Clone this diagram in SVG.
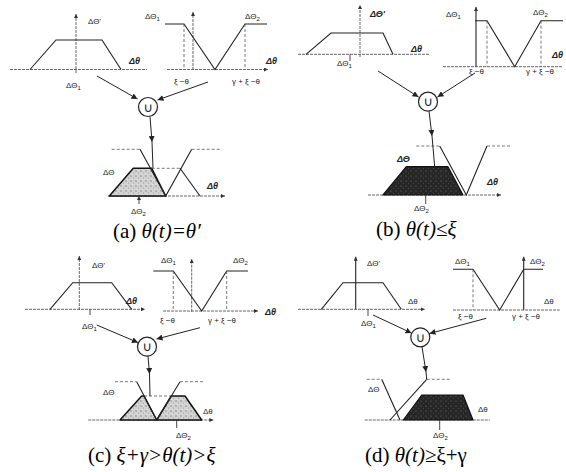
<svg xmlns="http://www.w3.org/2000/svg" width="566" height="472" viewBox="0 0 566 472">
<style>
.ax{stroke:#555;stroke-width:0.9;stroke-dasharray:3 1;fill:none}
.ln{stroke:#222;stroke-width:1.1;fill:none}
.ds{stroke:#555;stroke-width:0.8;stroke-dasharray:3 2;fill:none}
.shl{fill:url(#stipL);stroke:#111;stroke-width:1.5;stroke-linejoin:round}
.shd{fill:url(#stipD);stroke:#111;stroke-width:1.2;stroke-linejoin:round}
.lb{font-family:"Liberation Sans",Arial,sans-serif;font-size:8px;fill:#222}
.lbi{font-family:"Liberation Sans",Arial,sans-serif;font-size:9px;font-style:italic;font-weight:bold;fill:#222}
.sub{font-size:6px}
.cap{font-family:"Liberation Serif","Times New Roman",serif;font-size:21px;fill:#000}
.it{font-style:italic}
.un{fill:#fff;stroke:#222;stroke-width:1.2}
.ut{font-family:"DejaVu Sans",sans-serif;font-size:13px;fill:#222;text-anchor:middle}
.cn{stroke:#222;stroke-width:1;fill:none}
.tk{stroke:#333;stroke-width:0.9;fill:none}
</style>
<defs>
<marker id="ah" viewBox="0 0 6 6" markerWidth="6" markerHeight="6" refX="6" refY="3" orient="auto" markerUnits="userSpaceOnUse"><path d="M0,0 L6,3 L0,6 z" fill="#222"/></marker>
<marker id="as" viewBox="0 0 6 6" markerWidth="4" markerHeight="4" refX="6" refY="3" orient="auto" markerUnits="userSpaceOnUse"><path d="M0,0 L6,3 L0,6 z" fill="#333"/></marker>
<pattern id="stipL" width="5" height="5" patternUnits="userSpaceOnUse"><rect width="5" height="5" fill="#d2d2d2"/><circle cx="1" cy="1" r="0.7" fill="#777"/><circle cx="3.5" cy="3" r="0.6" fill="#999"/><circle cx="2" cy="4.2" r="0.5" fill="#f2f2f2"/></pattern>
<pattern id="stipD" width="5" height="5" patternUnits="userSpaceOnUse"><rect width="5" height="5" fill="#262626"/><circle cx="1" cy="1" r="0.6" fill="#777"/><circle cx="3.5" cy="3.2" r="0.5" fill="#555"/></pattern>
</defs>

<!-- ===== Panel (a) ===== -->
<g id="a-left">
<line class="ax" x1="76" y1="73" x2="76" y2="14" marker-end="url(#as)"/>
<line class="ax" x1="10" y1="69.5" x2="147" y2="69.5"/>
<polyline class="ln" points="30,69.5 56,40 102,40 121,69.5"/>
<text class="lb" x="88" y="24">ΔΘ'</text>
<text class="lbi" x="129" y="64">Δθ</text>
<text class="lb" x="66" y="88">ΔΘ<tspan class="sub" dy="2">1</tspan></text>
</g>
<g id="a-right">
<line class="ax" x1="193" y1="70" x2="193" y2="12" marker-end="url(#as)"/>
<line class="ax" x1="167" y1="69.5" x2="268" y2="69.5" marker-end="url(#as)"/>
<polyline class="ln" points="165,24 184,24 215,69.5 245,24 267,24"/>
<line class="ds" x1="184" y1="24" x2="184" y2="69.5"/>
<line class="ds" x1="245" y1="24" x2="245" y2="69.5"/>
<text class="lb" x="145" y="19">ΔΘ<tspan class="sub" dy="2">1</tspan></text>
<text class="lb" x="245" y="19">ΔΘ<tspan class="sub" dy="2">2</tspan></text>
<text class="lbi" x="266" y="64">Δθ</text>
<text class="lb" x="174" y="84" font-size="6.5">ξ −θ</text>
<text class="lb" x="232" y="84" font-size="6.5">γ + ξ −θ</text>
</g>
<g id="a-union">
<circle class="un" cx="148" cy="107" r="9.5"/>
<text class="ut" x="148" y="111.5">∪</text>
</g>
<g id="a-result">
<line class="ax" x1="108" y1="196" x2="225" y2="196" marker-end="url(#as)"/>
<polygon class="shl" points="109.3,196 133.3,168.3 151.7,168.3 165.7,196"/>
<line class="ds" x1="151.7" y1="168.3" x2="180" y2="168.3"/>
<line class="ln" x1="180" y1="168.3" x2="200" y2="196"/>
<line class="ds" x1="111.7" y1="149.3" x2="140" y2="149.3"/>
<polyline class="ln" points="140,149.3 165.7,196 191.7,149.3"/>
<line class="ds" x1="191.7" y1="149.3" x2="220" y2="149.3"/>
<line class="tk" x1="139" y1="204" x2="139" y2="196" marker-end="url(#as)"/>
<text class="lb" x="103" y="175">ΔΘ</text>
<text class="lbi" x="207" y="189">Δθ</text>
<text class="lb" x="131" y="214">ΔΘ<tspan class="sub" dy="2">2</tspan></text>
</g>
<g id="a-caption">
<text class="cap" x="113" y="238">(a) <tspan class="it">θ(t)=θ′</tspan></text>
</g>

<!-- ===== Panel (b) ===== -->
<g id="b-left">
<line class="ax" x1="360" y1="57" x2="360" y2="5" marker-end="url(#as)"/>
<line class="ax" x1="298" y1="54.3" x2="430" y2="54.3"/>
<polyline class="ln" points="306,54.3 331,33 383,33 393,54.3"/>
<line class="tk" x1="350" y1="61" x2="350" y2="54.3"/>
<text class="lbi" x="370" y="17">ΔΘ'</text>
<text class="lbi" x="411" y="52">Δθ</text>
<text class="lb" x="337" y="66">ΔΘ<tspan class="sub" dy="2">1</tspan></text>
</g>
<g id="b-right">
<line class="ln" x1="476" y1="67" x2="476" y2="7" marker-end="url(#as)"/>
<line class="ax" x1="443" y1="66.7" x2="563" y2="66.7"/>
<polyline class="ln" points="475,20.7 487,20.7 514.7,66.7 541,20.7 563,20.7"/>
<line class="ds" x1="487" y1="20.7" x2="487" y2="66.7"/>
<line class="ds" x1="541" y1="20.7" x2="541" y2="66.7"/>
<text class="lb" x="446" y="17">ΔΘ<tspan class="sub" dy="2">1</tspan></text>
<text class="lb" x="533" y="15">ΔΘ<tspan class="sub" dy="2">2</tspan></text>
<text class="lbi" x="552" y="58">Δθ</text>
<text class="lb" x="469" y="74" font-size="6.5">ξ −θ</text>
<text class="lb" x="526" y="74" font-size="6.5">γ + ξ −θ</text>
</g>
<g id="b-union">
<circle class="un" cx="428" cy="101.7" r="9.5"/>
<text class="ut" x="428" y="106.2">∪</text>
</g>
<g id="b-result">
<line class="ax" x1="368" y1="195" x2="501" y2="195" marker-end="url(#as)"/>
<polygon class="shd" points="383,195 406.3,166.7 448,166.7 463,195"/>
<line class="ds" x1="416.3" y1="146" x2="439.7" y2="146"/>
<polyline class="ln" points="439.7,146 466.3,195 487,146"/>
<line class="ds" x1="487" y1="146" x2="511" y2="146"/>
<line class="tk" x1="425.7" y1="204" x2="425.7" y2="195"/>
<text class="lbi" x="397" y="162">ΔΘ</text>
<text class="lbi" x="487" y="185">Δθ</text>
<text class="lb" x="414" y="211">ΔΘ<tspan class="sub" dy="2">2</tspan></text>
</g>
<g id="b-caption">
<text class="cap" x="376" y="236">(b) <tspan class="it">θ(t)≤ξ</tspan></text>
</g>

<!-- ===== Panel (c) ===== -->
<g id="c-left">
<line class="ax" x1="79.3" y1="310" x2="79.3" y2="256" marker-end="url(#as)"/>
<line class="ax" x1="25" y1="309.3" x2="145" y2="309.3" marker-end="url(#as)"/>
<polyline class="ln" points="50,309.3 72.7,282.7 111.7,282.7 131.7,309.3"/>
<line class="tk" x1="90" y1="315" x2="90" y2="309.3"/>
<text class="lb" x="92" y="268">ΔΘ'</text>
<text class="lbi" x="126" y="304">Δθ</text>
<text class="lb" x="82" y="329">ΔΘ<tspan class="sub" dy="2">1</tspan></text>
</g>
<g id="c-right">
<line class="ax" x1="191.7" y1="311.7" x2="191.7" y2="259" marker-end="url(#as)"/>
<line class="ax" x1="163" y1="311" x2="258" y2="311" marker-end="url(#as)"/>
<polyline class="ln" points="153.3,271 173.3,271 201.7,311 226.7,271 248,271"/>
<line class="ds" x1="173.3" y1="271" x2="173.3" y2="311"/>
<line class="ds" x1="226.7" y1="271" x2="226.7" y2="311"/>
<text class="lb" x="161" y="263">ΔΘ<tspan class="sub" dy="2">1</tspan></text>
<text class="lb" x="233" y="263">ΔΘ<tspan class="sub" dy="2">2</tspan></text>
<text class="lbi" x="265" y="315">Δθ</text>
<text class="lb" x="160" y="323" font-size="6.5">ξ −θ</text>
<text class="lb" x="208" y="323" font-size="6.5">γ + ξ −θ</text>
</g>
<g id="c-union">
<circle class="un" cx="147" cy="346.7" r="9.5"/>
<text class="ut" x="147" y="351.2">∪</text>
</g>
<g id="c-result">
<line class="ax" x1="88.3" y1="420" x2="213.3" y2="420" marker-end="url(#as)"/>
<polygon class="shl" points="120,420 141.7,396 144,396 156.7,420"/>
<polygon class="shl" points="156.7,420 171.3,396 185,396 201.7,420"/>
<line class="ds" x1="144" y1="396" x2="171.3" y2="396"/>
<line class="ds" x1="115" y1="381.7" x2="136.7" y2="381.7"/>
<polyline class="ln" points="136.7,381.7 156.7,420 180,381.7"/>
<line class="ds" x1="180" y1="381.7" x2="205" y2="381.7"/>
<line class="tk" x1="176.7" y1="428" x2="176.7" y2="420"/>
<text class="lb" x="103" y="395">ΔΘ</text>
<text class="lb" x="203" y="414">Δθ</text>
<text class="lb" x="176" y="438">ΔΘ<tspan class="sub" dy="2">2</tspan></text>
</g>
<g id="c-caption">
<text class="cap" x="88" y="462">(c) <tspan class="it">ξ+γ&gt;θ(t)&gt;ξ</tspan></text>
</g>

<!-- ===== Panel (d) ===== -->
<g id="d-left">
<line class="ln" x1="355.7" y1="309.3" x2="355.7" y2="256.7" marker-end="url(#as)"/>
<line class="ax" x1="298" y1="309.3" x2="424.7" y2="309.3" marker-end="url(#as)"/>
<polyline class="ln" points="321.3,309.3 343,282.7 383,282.7 401.3,309.3"/>
<line class="tk" x1="368" y1="316" x2="368" y2="309.3"/>
<text class="lb" x="367" y="266">ΔΘ'</text>
<text class="lb" x="408" y="304">Δθ</text>
<text class="lb" x="361" y="326">ΔΘ<tspan class="sub" dy="2">1</tspan></text>
</g>
<g id="d-right">
<line class="ln" x1="523.7" y1="310" x2="523.7" y2="256.7" marker-end="url(#as)"/>
<line class="ax" x1="453" y1="310" x2="559.7" y2="310"/>
<polyline class="ln" points="453,269.3 473,269.3 499.7,310 523.7,269.3 543,269.3"/>
<line class="ds" x1="473" y1="269.3" x2="473" y2="310"/>
<text class="lb" x="455" y="264">ΔΘ<tspan class="sub" dy="2">1</tspan></text>
<text class="lb" x="530" y="264">ΔΘ<tspan class="sub" dy="2">2</tspan></text>
<text class="lb" x="544" y="304">Δθ</text>
<text class="lb" x="458" y="319" font-size="6.5">ξ −θ</text>
<text class="lb" x="512" y="319" font-size="6.5">γ + ξ −θ</text>
</g>
<g id="d-union">
<circle class="un" cx="420.3" cy="337.3" r="9.5"/>
<text class="ut" x="420.3" y="341.8">∪</text>
</g>
<g id="d-result">
<line class="ax" x1="364.7" y1="420" x2="489.7" y2="420"/>
<polygon class="shd" points="403.3,420 421.7,395 463,395 473,420"/>
<line class="ds" x1="366.7" y1="379.3" x2="381.7" y2="379.3"/>
<line class="ln" x1="381.7" y1="379.3" x2="400" y2="420"/>
<line class="ln" x1="390" y1="420" x2="426.7" y2="379.3"/>
<line class="ds" x1="426.7" y1="379.3" x2="451.7" y2="379.3"/>
<line class="tk" x1="439.7" y1="430" x2="439.7" y2="420"/>
<text class="lb" x="368" y="392">ΔΘ</text>
<text class="lb" x="478" y="412">Δθ</text>
<text class="lb" x="433" y="438">ΔΘ<tspan class="sub" dy="2">2</tspan></text>
</g>
<g id="d-caption">
<text class="cap" x="365" y="462">(d) <tspan class="it">θ(t)</tspan>≥ξ+γ</text>
</g>

<!-- ===== Connectors ===== -->
<g id="connectors">
<line class="cn" x1="97" y1="76" x2="137.5" y2="99" marker-end="url(#ah)"/>
<line class="cn" x1="208" y1="82" x2="157.5" y2="100" marker-end="url(#ah)"/>
<path class="cn" d="M150,116.5 L152,142 L153,168.3" marker-mid="url(#ah)"/>
<line class="cn" x1="378" y1="71" x2="418.5" y2="97" marker-end="url(#ah)"/>
<line class="cn" x1="475" y1="73" x2="437.5" y2="97" marker-end="url(#ah)"/>
<path class="cn" d="M429,111.2 L432,136 L434.7,166.7" marker-mid="url(#ah)"/>
<line class="cn" x1="96.7" y1="325" x2="138" y2="342.5" marker-end="url(#ah)"/>
<line class="cn" x1="200" y1="327.7" x2="156.5" y2="339" marker-end="url(#ah)"/>
<path class="cn" d="M148,356.2 L149.5,374 L150,396" marker-mid="url(#ah)"/>
<line class="cn" x1="373" y1="315" x2="411.5" y2="333" marker-end="url(#ah)"/>
<line class="cn" x1="486.3" y1="318.3" x2="429.5" y2="333.5" marker-end="url(#ah)"/>
<path class="cn" d="M422,346.8 L426,372 L426.7,379.3" marker-mid="url(#ah)"/>
</g>
</svg>
